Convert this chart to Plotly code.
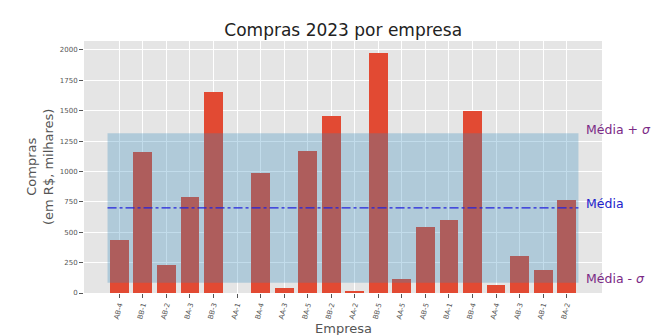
import numpy as np
import plotly.graph_objects as go

# Purchases per company in 2023 (R$ thousands)
empresas = ["AB-4", "BB-1", "AB-2", "BA-3", "BB-3", "AA-1", "BA-4", "AA-3", "BA-5", "BB-2",
            "AA-2", "BB-5", "AA-5", "AB-5", "BA-1", "BB-4", "AA-4", "AB-3", "AB-1", "BA-2"]
compras = [435, 1164, 230, 787, 1656, 0, 984, 38, 1172, 1459,
           12, 1975, 115, 543, 604, 1500, 68, 303, 186, 768]
yticks = [0, 250, 500, 750, 1000, 1250, 1500, 1750, 2000]

media = float(np.mean(compras))
desvio = float(np.std(compras, ddof=1))
pos = list(range(len(empresas)))

FONT = "DejaVu Sans"
GRAY = "#555555"
W, H = 669, 335
ML, MR, MT, MB = 84, 67, 41, 42
PW, PH = W - ML - MR, H - MT - MB

fig = go.Figure()
fig.add_trace(go.Bar(x=pos, y=compras, width=0.8,
                     marker=dict(color="#E24A33", line=dict(width=0)),
                     showlegend=False))

# mean ± std band and mean line
fig.add_shape(type="rect", xref="x", yref="y", x0=-0.5, x1=len(pos) - 0.5,
              y0=media - desvio, y1=media + desvio,
              fillcolor="#348ABD", opacity=0.3, line=dict(width=0), layer="above")
fig.add_shape(type="line", xref="x", yref="y", x0=-0.5, x1=len(pos) - 0.5,
              y0=media, y1=media, line=dict(color="#2222DD", width=1.2, dash="dashdot"),
              layer="above")

for txt, val, col in [("Média + <i>σ</i>", media + desvio, "#7B2A86"),
                      ("Média", media, "#2222CC"),
                      ("Média - <i>σ</i>", media - desvio, "#7B2A86")]:
    fig.add_annotation(x=19.72, y=val, xref="x", yref="y", text=txt, showarrow=False,
                       xanchor="left", yanchor="middle", yshift=4,
                       font=dict(family=FONT, size=12.5, color=col))

# axis titles
fig.add_annotation(text="Empresa", xref="paper", yref="paper",
                   x=0.5, y=-(328 - (MT + PH)) / PH, xanchor="center", yanchor="middle",
                   showarrow=False, font=dict(family=FONT, size=13, color=GRAY))
fig.add_annotation(text="Compras<br>(em R$, milhares)", xref="paper", yref="paper",
                   x=(40 - ML) / PW, y=0.5, xanchor="center", yanchor="middle",
                   textangle=-90, showarrow=False,
                   font=dict(family=FONT, size=13, color=GRAY))

fig.update_layout(
    width=W, height=H,
    margin=dict(l=ML, r=MR, t=MT, b=MB),
    paper_bgcolor="white", plot_bgcolor="#E5E5E5",
    title=dict(text="Compras 2023 por empresa", x=0.513, xanchor="center",
               y=0.91, yanchor="middle",
               font=dict(family=FONT, size=17, color="#222222")),
    bargap=0,
)
fig.update_xaxes(range=[-1.5, 20.5], tickvals=pos, ticktext=empresas, tickangle=-75,
                 tickfont=dict(family=FONT, size=7, color=GRAY),
                 ticks="outside", ticklen=4, tickcolor=GRAY, automargin=False,
                 showgrid=True, gridcolor="white", gridwidth=1, zeroline=False)
fig.update_yaxes(range=[0, 2074], tickvals=yticks, ticktext=[str(v) for v in yticks],
                 tickfont=dict(family=FONT, size=7, color=GRAY),
                 ticks="outside", ticklen=4, tickcolor=GRAY, automargin=False,
                 showgrid=True, gridcolor="white", gridwidth=1, zeroline=False)

fig.write_html("out.html")
